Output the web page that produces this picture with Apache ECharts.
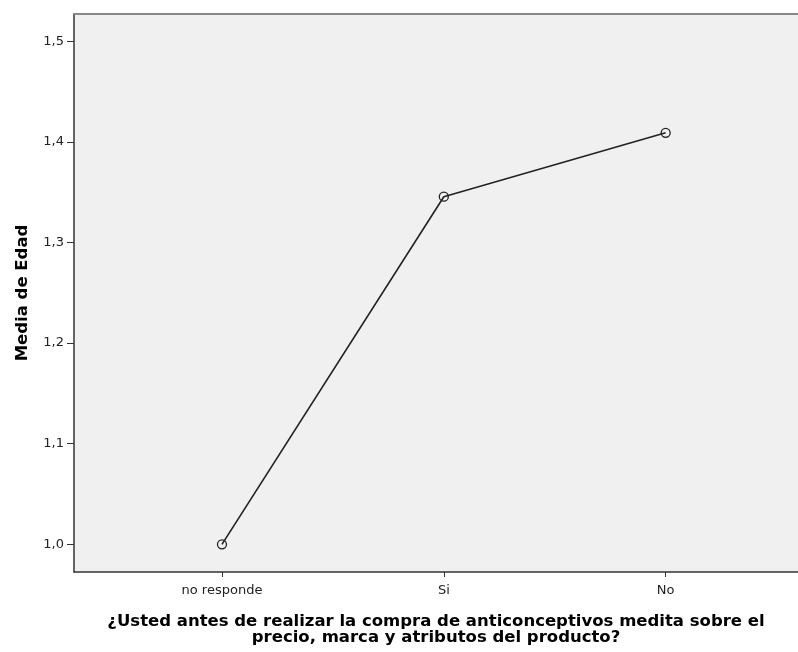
<!DOCTYPE html>
<html>
<head>
<meta charset="utf-8">
<script src="https://cdn.jsdelivr.net/npm/echarts@6/dist/echarts.min.js"></script>
<style>
html, body { margin: 0; padding: 0; background: #fff; }
#main { width: 798px; height: 652px; }
</style>
</head>
<body>
<div id="main"></div>
<script>
var categories = ['no responde', 'Si', 'No'];
var meanAge = [1.0, 1.3455, 1.409];
var yTicks = [1.0, 1.1, 1.2, 1.3, 1.4, 1.5];
var xTicks = [1, 2, 3];

var chart = echarts.init(document.getElementById('main'));

var points = meanAge.map(function (v, i) { return [i + 1, v]; });
var font = 'DejaVu Sans, Arial';

option = {
    animation: false,
    grid: {
        left: 74,
        top: 14,
        right: 0,
        bottom: 80,
        show: true,
        backgroundColor: '#f0f0f0',
        borderWidth: 0
    },
    xAxis: [{
        type: 'value',
        min: 0.333,
        max: 3.5965,
        splitLine: { show: false },
        axisLine: { lineStyle: { color: '#333', width: 1.5 } },
        axisTick: { length: 5, customValues: xTicks, lineStyle: { color: '#333' } },
        axisLabel: {
            color: '#222',
            fontFamily: font,
            fontSize: 13,
            margin: 12,
            customValues: xTicks,
            formatter: function (v) { return categories[Math.round(v) - 1] || ''; }
        },
        name: '¿Usted antes de realizar la compra de anticonceptivos medita sobre el\nprecio, marca y atributos del producto?',
        nameLocation: 'middle',
        nameGap: 42,
        nameTextStyle: {
            color: '#000',
            fontFamily: font,
            fontWeight: 'bold',
            fontSize: 16.5,
            lineHeight: 16,
            align: 'center'
        }
    }, {
        type: 'value',
        position: 'top',
        min: 0.333,
        max: 3.5965,
        splitLine: { show: false },
        axisTick: { show: false },
        axisLabel: { show: false },
        axisLine: { lineStyle: { color: '#888', width: 2 } }
    }],
    yAxis: {
        type: 'value',
        min: 0.9725,
        max: 1.5271,
        splitLine: { show: false },
        axisLine: { show: true, lineStyle: { color: '#333', width: 1.5 } },
        axisTick: { show: true, length: 7, customValues: yTicks, lineStyle: { color: '#333' } },
        axisLabel: {
            color: '#222',
            fontFamily: font,
            fontSize: 13,
            margin: 10,
            customValues: yTicks,
            formatter: function (v) { return v.toFixed(1).replace('.', ','); }
        },
        name: 'Media de Edad',
        nameLocation: 'middle',
        nameGap: 43,
        nameTextStyle: {
            color: '#000',
            fontFamily: font,
            fontWeight: 'bold',
            fontSize: 16.5
        }
    },
    series: [{
        type: 'line',
        xAxisIndex: 0,
        data: points,
        symbol: 'circle',
        symbolSize: 9,
        itemStyle: { color: 'rgba(0,0,0,0)', borderColor: '#222', borderWidth: 1.3 },
        lineStyle: { color: '#222', width: 1.6 }
    }]
};
chart.setOption(option);
</script>
</body>
</html>
